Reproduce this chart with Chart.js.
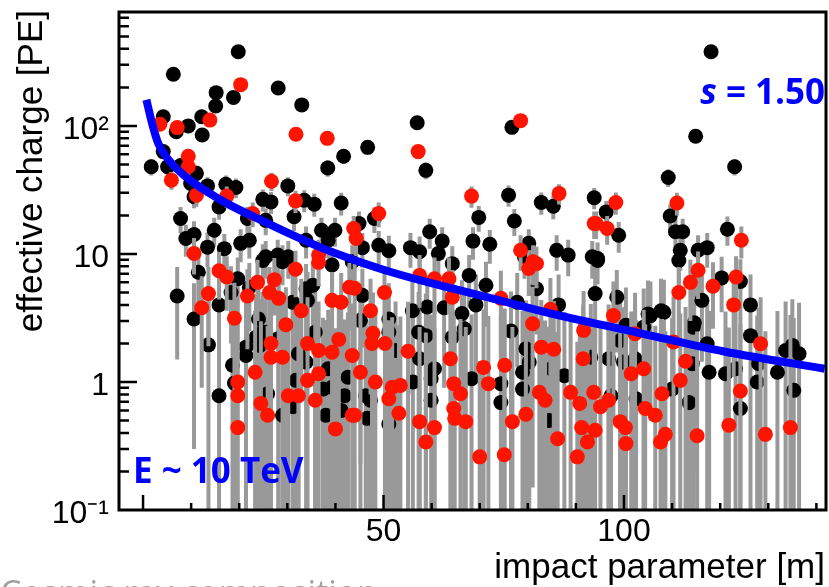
<!DOCTYPE html>
<html>
<head>
<meta charset="utf-8">
<script src="https://cdn.jsdelivr.net/npm/chart.js@4.4.0/dist/chart.umd.min.js"></script>
<style>
  html, body { margin: 0; padding: 0; background: #fff; }
  #wrap { width: 829px; height: 587px; position: relative; overflow: hidden; }
</style>
</head>
<body>
<div id="wrap"><canvas id="chart" width="829" height="587"></canvas></div>
<script>
// axis ranges and tick values
var xMin = -5, xMax = 142;
var yMin = 0.1, yMax = 776;
var xLabelValues = [0, 50, 100];
var yLabelValues = [0.1, 1, 10, 100];
var yLabelTexts = ['10\u207B\u00B9', '1', '10', '10\u00B2'];
var xMajorTicks = [0, 50, 100];
var xMinorTicks = [10, 20, 30, 40, 60, 70, 80, 90, 110, 120, 130, 140];
var yMajorTicks = [1, 10, 100];
var yMinorTicks = [0.2, 0.3, 0.4, 0.5, 0.6, 0.7, 0.8, 0.9, 2, 3, 4, 5, 6, 7, 8, 9,
  20, 30, 40, 50, 60, 70, 80, 90, 200, 300, 400, 500, 600, 700];

// [impact parameter, effective charge, error]
var blackPoints = [
  [19.8, 380, 19], [6.3, 253, 16], [28.1, 198, 14], [15.2, 182, 13], [18.8, 167, 13],
  [33, 146, 12], [15.1, 143, 12], [4.2, 118, 11], [12.2, 118, 11], [9.4, 100, 10],
  [6.9, 90, 9.5], [12.3, 85, 9], [41.7, 58, 7.6], [38.4, 47, 7], [4.2, 63, 8],
  [1.7, 48, 7], [5.1, 48, 7], [7.8, 49, 7], [11.1, 42.6, 6.5], [30.1, 34, 5.8],
  [9.9, 35.5, 6], [13.4, 34, 5.8], [17.2, 35, 6], [19.3, 33, 5.8], [10.6, 28, 5.3],
  [15.8, 23.3, 4.8], [24.9, 26.7, 5.2], [26.6, 25.5, 5], [33.5, 26.3, 5.1], [35.6, 24.5, 5],
  [41.2, 25, 5], [21.7, 18.9, 4.4], [25.5, 18.3, 4.3], [31.4, 19.5, 4.4], [7.8, 18.9, 4.4],
  [8.9, 13.2, 3.7], [10.6, 14.2, 3.8], [14.8, 15.3, 3.9], [13.4, 11.3, 3.4], [16.9, 11, 3.3],
  [20.3, 12.1, 3.5], [22.1, 12.8, 3.6], [33.9, 12.8, 3.6], [37.1, 15.3, 3.9], [39.9, 15.3, 3.9],
  [38.5, 12.8, 3.6], [25.5, 9.5, 3.1], [28, 9.8, 3.1], [30.2, 9.5, 3.1],
  [57, 106, 10], [46.7, 68, 8], [58.8, 45, 6.7], [76.7, 97.5, 10], [76, 28.8, 5.4],
  [82.8, 25.2, 5], [85.3, 23.6, 4.9], [93.8, 27.5, 5.2], [48.1, 18.9, 4.3], [44.9, 17.3, 4.2],
  [69.8, 19.3, 4.4], [77.2, 18.1, 4.3], [59.6, 14.9, 3.9], [62.2, 12.6, 3.6], [68.6, 12.6, 3.6],
  [72.1, 11.9, 3.5], [55.6, 11.2, 3.4], [57.5, 10.4, 3.3], [61.4, 10.1, 3.2], [49, 11.7, 3.4],
  [51.1, 10.6, 3.3], [45.6, 11.2, 3.4], [80.2, 12.1, 3.5], [86, 10.7, 3.3], [88.4, 9.8, 3.1],
  [93.4, 9.5, 3.1],
  [118.1, 380, 19], [114.9, 83, 9], [123, 48, 7], [109.2, 39.6, 6.3], [96.3, 21.3, 4.6],
  [109.6, 19.8, 4.5], [98.9, 14, 3.8], [110.7, 14.9, 3.9], [112.2, 14.9, 3.9], [121.5, 15.6, 4],
  [111.7, 10.7, 3.3], [115.4, 10.7, 3.3], [117.3, 11.2, 3.4], [94.5, 9.2, 3.1],
  [7.1, 4.7, 3.2], [11.5, 7.2, 3], [10.6, 3.1, 2.8], [13.6, 1.95, 2.5], [15.8, 0.78, 2.2],
  [18.6, 1.35, 2.4], [19, 0.98, 2.6], [15.8, 4.0, 3], [18.3, 5.0, 3], [19.7, 6.4, 3],
  [22.1, 5.5, 3], [24, 3.1, 2.8], [24.9, 2.45, 2.6], [21.4, 1.87, 2.5], [29, 0.55, 2.2],
  [32.3, 1.66, 2.4], [38, 0.55, 2.5], [41.2, 0.6, 2.3], [35.8, 2.45, 2.7], [38.5, 1.27, 2.4],
  [39.3, 0.91, 2.3], [42.6, 1.09, 2.4], [25.9, 0.81, 2.3], [31.8, 1.03, 2.4], [25.5, 2.45, 2.6],
  [31.1, 4.2, 2.9], [34.2, 4.34, 2.9], [43.5, 8.7, 3], [39.3, 8.2, 3], [35.3, 5.7, 3],
  [29, 8.7, 3], [24.9, 8.9, 3], [23.5, 2.24, 2.6], [33.9, 5.35, 3], [21.4, 1.61, 2.5],
  [24.3, 1.93, 2.5], [28.1, 2.18, 2.6], [33.9, 1.43, 2.4], [31.1, 0.64, 2.3], [37.4, 0.88, 2.3],
  [41.9, 0.78, 2.3],
  [46.3, 0.78, 2.3], [67.8, 6.8, 3], [71.3, 5.7, 3], [56, 3.6, 2.8], [59.1, 3.85, 2.9],
  [62.6, 3.8, 2.9], [66.3, 3.42, 2.8], [69.2, 4.0, 2.9], [66.8, 2.6, 2.7], [57.3, 2.45, 2.6],
  [58.8, 2.3, 2.6], [64.3, 2.24, 2.6], [76.5, 2.5, 2.6], [79.6, 1.82, 2.5], [81.8, 5.35, 3],
  [86.4, 4.0, 2.9], [57.5, 1.52, 2.4], [60.6, 1.27, 2.4], [59.9, 1.06, 2.3], [68.3, 1.06, 2.3],
  [56.1, 1.0, 2.3], [74.4, 0.97, 2.3], [78.9, 1.19, 2.4], [80.3, 1.43, 2.4], [84.9, 1.27, 2.4],
  [87.6, 1.12, 2.4], [78.9, 0.88, 2.3], [74.4, 0.69, 2.3], [47.3, 0.72, 2.3], [46.6, 0.52, 2.2],
  [51.1, 0.47, 2.2], [59.9, 0.72, 2.3], [84.4, 0.5, 2.2], [45.2, 3.03, 2.8], [51.1, 2.45, 2.6],
  [52.5, 1.76, 2.5], [64.3, 8.4, 3.1], [79.3, 9.5, 3.1], [45.6, 4.75, 2.9], [51.1, 3.1, 2.8],
  [77.8, 4.2, 2.9],
  [94.5, 8.9, 3.1], [111.4, 8.9, 3.1], [120.3, 6.5, 3], [124.2, 6.1, 3], [126.3, 4.0, 2.9],
  [116.2, 4.34, 2.9], [98.5, 4.6, 2.9], [94, 4.9, 2.9], [105.5, 3.3, 2.8], [108.3, 3.5, 2.8],
  [100.4, 2.77, 2.7], [104.1, 2.68, 2.7], [99.2, 2.11, 2.6], [114.4, 2.68, 2.7], [117.3, 1.99, 2.6],
  [126.3, 2.3, 2.6], [133.6, 1.76, 2.5], [135, 1.93, 2.5], [136.4, 1.66, 2.5], [93.1, 1.56, 2.5],
  [96.8, 1.52, 2.5], [99.9, 1.43, 2.4], [102.3, 1.52, 2.5], [114.2, 1.39, 2.4], [117.7, 1.19, 2.4],
  [121.1, 1.16, 2.4], [123.2, 1.27, 2.4], [128, 1.39, 2.4], [131.9, 1.19, 2.4], [127.7, 1.0, 2.3],
  [135.3, 0.86, 2.3], [124.2, 0.62, 2.2], [110, 0.88, 2.3], [113.5, 0.69, 2.3], [102.5, 0.74, 2.3],
  [97.3, 0.78, 2.3], [105, 3.4, 2.8], [107.7, 3.6, 2.8], [114.6, 2.9, 2.7]
];

var redPoints = [
  [20.3, 210, 14], [13.9, 111, 10], [3.5, 103, 10], [7.1, 97, 10], [31.8, 86, 9],
  [38.3, 80, 9], [9.4, 58, 7.6], [9.4, 48, 7], [5.9, 37.7, 6], [26.7, 37, 6],
  [11.1, 28.8, 5.4], [17.4, 28.3, 5.3], [31.7, 26, 5.1], [22.8, 20.7, 4.5], [10.6, 10.1, 3.2],
  [43.8, 15.8, 4], [44.3, 13.2, 3.6], [36.5, 9.8, 3.1],
  [57.2, 63, 8], [78.5, 110, 10], [68.3, 28.3, 5.3], [86.5, 29.7, 5.4], [93.8, 17.3, 4.2],
  [49, 20.7, 4.5], [78.5, 10.7, 3.3], [81.1, 8.7, 3],
  [98.3, 25.2, 5], [111, 25, 5], [94.2, 17.3, 4.2], [96.5, 15.8, 4], [124.4, 12.8, 3.6],
  [15.8, 7.4, 3], [17.4, 6.6, 3], [13.6, 4.9, 3], [12.2, 3.8, 2.9], [19, 3.15, 2.8],
  [19.7, 1.0, 2.4], [19.7, 0.78, 2.3], [19.7, 0.44, 2.2], [21.7, 4.7, 2.9], [23.8, 6.0, 3],
  [27.3, 6.3, 3], [26.3, 5.0, 2.9], [28.2, 4.5, 2.9], [31.7, 7.6, 3], [36.5, 8.6, 3],
  [32.9, 3.6, 2.8], [29.7, 2.8, 2.7], [26.6, 2.0, 2.6], [26.6, 1.56, 2.5], [29, 1.56, 2.5],
  [23.3, 1.19, 2.4], [24.5, 0.68, 2.3], [25.9, 0.55, 2.2], [30.2, 0.78, 2.3], [32.3, 0.78, 2.3],
  [34.2, 2.0, 2.6], [36.5, 1.76, 2.5], [39.3, 1.71, 2.5], [40.7, 2.15, 2.6], [43.5, 1.61, 2.5],
  [34.2, 1.03, 2.4], [36.5, 1.16, 2.4], [35.8, 0.72, 2.3], [40, 0.43, 2.2], [43.5, 0.55, 2.2],
  [39.3, 4.34, 2.9], [41.2, 4.2, 2.9], [42.9, 5.5, 3],
  [50.2, 5.0, 2.9], [47.3, 3.6, 2.8], [47.8, 2.4, 2.6], [47.6, 2.0, 2.6], [50.3, 2.0, 2.6],
  [45.2, 1.19, 2.4], [48.3, 1.0, 2.4], [51.1, 0.74, 2.3], [51.8, 0.91, 2.3], [53.5, 0.94, 2.3],
  [53.2, 0.57, 2.2], [55.1, 1.74, 2.5], [57.5, 0.49, 2.2], [60.6, 0.44, 2.2], [58.8, 0.34, 2.1],
  [63.9, 1.52, 2.5], [64.6, 0.97, 2.3], [66, 0.81, 2.3], [64.6, 0.62, 2.2], [64.8, 0.52, 2.2],
  [67.1, 0.49, 2.2], [70.8, 1.3, 2.4], [71.8, 0.97, 2.3], [75.2, 1.35, 2.4], [70, 0.26, 1.2],
  [75.1, 0.27, 1.4], [76.8, 0.49, 2.2], [79.6, 0.56, 2.2], [81, 2.85, 2.7], [82.8, 1.87, 2.5],
  [85.4, 1.8, 2.5], [82.4, 0.83, 2.3], [83.6, 0.72, 2.3], [86.2, 0.36, 2.1], [88.9, 0.83, 2.3],
  [90.8, 0.68, 2.3], [91.5, 1.52, 2.5], [91.2, 0.44, 2.2], [92.4, 0.34, 2.1], [90.3, 0.26, 1.8],
  [91.6, 2.53, 2.6], [84.7, 3.7, 2.8], [80.2, 7.7, 3], [81.8, 8.4, 3], [74.4, 4.5, 2.9],
  [64.3, 4.6, 2.9], [60.6, 6.4, 3], [63.6, 6.4, 3], [57.5, 6.8, 3], [44, 5.4, 3],
  [44, 0.55, 2.2],
  [115.4, 7.45, 3], [113.8, 6.0, 3], [111.4, 5.0, 2.9], [118.5, 5.6, 3], [123.3, 6.6, 3],
  [122.8, 4.0, 2.9], [97.8, 3.3, 2.8], [102.3, 2.38, 2.6], [110.3, 2.05, 2.6], [128.4, 1.99, 2.6],
  [101.5, 1.16, 2.4], [104.1, 1.27, 2.4], [112.8, 1.45, 2.4], [111.7, 1.03, 2.4], [124.2, 0.85, 2.3],
  [107.9, 0.81, 2.3], [96.8, 0.72, 2.3], [95.1, 0.64, 2.2], [93.7, 0.83, 2.3], [104.4, 0.62, 2.2],
  [106.5, 0.55, 2.2], [99.2, 0.49, 2.2], [100.3, 0.44, 2.2], [100.4, 0.33, 2.1], [94, 0.42, 2.2],
  [108.6, 0.39, 2.1], [107.6, 0.34, 2.1], [115.2, 0.38, 2.1], [121.8, 0.46, 2.2], [129.4, 0.39, 2.1],
  [134.6, 0.44, 2.9]
];

// fitted lateral distribution
var fitX = [0.7, 1.7, 3.1, 5.2, 8.9, 12.8, 17.7, 24.2, 30.8, 37.5, 44.2, 51.7, 60.8, 72.5, 85.6, 103.5, 120.8, 141.7];
var fitY = [160, 111, 74, 55, 40, 31.5, 24.5, 18.6, 14.2, 11, 8.9, 7.2, 5.8, 4.5, 3.37, 2.4, 1.73, 1.27];

function toXY(list) {
  return list.map(function (p) { return { x: p[0], y: p[1], err: p[2] }; });
}

function noPadding(s) {
  s.paddingTop = 0; s.paddingBottom = 0; s.paddingLeft = 0; s.paddingRight = 0;
}

var errorBars = {
  id: 'errorBars',
  beforeDatasetDraw: function (chart, args) {
    var ds = chart.data.datasets[args.index];
    if (!ds.errColor) return;
    var ctx = chart.ctx, a = chart.chartArea;
    var xs = chart.scales.x, ys = chart.scales.y;
    ctx.save();
    ctx.beginPath();
    ctx.rect(a.left, a.top, a.right - a.left, a.bottom - a.top);
    ctx.clip();
    ctx.strokeStyle = ds.errColor;
    ctx.lineWidth = 4;
    ctx.beginPath();
    ds.data.forEach(function (p) {
      var px = xs.getPixelForValue(p.x);
      var lo = Math.max(p.y - p.err, yMin);
      ctx.moveTo(px, ys.getPixelForValue(lo));
      ctx.lineTo(px, ys.getPixelForValue(p.y + p.err));
    });
    ctx.stroke();
    ctx.restore();
  }
};

var frame = {
  id: 'frame',
  afterDraw: function (chart) {
    var ctx = chart.ctx, a = chart.chartArea;
    var xs = chart.scales.x, ys = chart.scales.y;
    ctx.save();
    ctx.strokeStyle = '#000';
    ctx.lineWidth = 2.5;
    ctx.beginPath();
    yMajorTicks.forEach(function (v) {
      var py = ys.getPixelForValue(v);
      ctx.moveTo(a.left, py); ctx.lineTo(a.left + 18, py);
    });
    yMinorTicks.forEach(function (v) {
      var py = ys.getPixelForValue(v);
      ctx.moveTo(a.left, py); ctx.lineTo(a.left + 10, py);
    });
    xMajorTicks.forEach(function (v) {
      var px = xs.getPixelForValue(v);
      ctx.moveTo(px, a.bottom); ctx.lineTo(px, a.bottom - 15);
    });
    xMinorTicks.forEach(function (v) {
      var px = xs.getPixelForValue(v);
      ctx.moveTo(px, a.bottom); ctx.lineTo(px, a.bottom - 7);
    });
    ctx.stroke();
    ctx.lineWidth = 3;
    ctx.strokeRect(a.left, a.top, a.right - a.left, a.bottom - a.top);

    // axis titles
    ctx.fillStyle = '#000';
    ctx.font = '35px "Liberation Sans", Arial, sans-serif';
    ctx.textBaseline = 'alphabetic';
    ctx.textAlign = 'right';
    ctx.fillText('impact parameter [m]', 825, 578);
    ctx.save();
    ctx.translate(42, 10);
    ctx.rotate(-Math.PI / 2);
    ctx.fillText('effective charge [PE]', 0, 0);
    ctx.restore();

    // annotations
    ctx.fillStyle = '#0000ff';
    ctx.textAlign = 'left';
    ctx.font = 'bold 35px "Open Sans", "Noto Sans", sans-serif';
    ctx.fillText('E ~ 10 TeV', 133, 483);
    var rest = ' = 1.50';
    var wRest = ctx.measureText(rest).width;
    ctx.font = 'italic bold 35px "Open Sans", "Noto Sans", sans-serif';
    var wS = ctx.measureText('s').width;
    ctx.fillText('s', 825 - wRest - wS, 104);
    ctx.font = 'bold 35px "Open Sans", "Noto Sans", sans-serif';
    ctx.fillText(rest, 825 - wRest, 104);

    // cut-off caption below the figure
    ctx.fillStyle = '#a0a0a0';
    ctx.font = '34px "Open Sans", "Noto Sans", sans-serif';
    ctx.fillText('Cosmic ray composition', 0, 605);
    ctx.restore();
  }
};

var ctx = document.getElementById('chart').getContext('2d');
var chart = new Chart(ctx, {
  type: 'scatter',
  data: {
    datasets: [
      {
        type: 'line',
        data: fitX.map(function (v, i) { return { x: v, y: fitY[i] }; }),
        borderColor: '#0000ff',
        borderWidth: 8,
        pointRadius: 0,
        fill: false,
        cubicInterpolationMode: 'monotone'
      },
      {
        data: toXY(redPoints),
        errColor: '#999999',
        pointRadius: 7.5,
        pointBackgroundColor: '#ff1400',
        pointBorderWidth: 0,
        borderWidth: 0
      },
      {
        data: toXY(blackPoints),
        errColor: '#999999',
        pointRadius: 7.5,
        pointBackgroundColor: '#000000',
        pointBorderWidth: 0,
        borderWidth: 0
      }
    ]
  },
  options: {
    responsive: false,
    animation: false,
    devicePixelRatio: 1,
    events: [],
    layout: { autoPadding: false, padding: { top: 12, right: 3, left: 0, bottom: 0 } },
    plugins: { legend: { display: false }, tooltip: { enabled: false } },
    scales: {
      x: {
        type: 'linear',
        min: xMin,
        max: xMax,
        grid: { display: false, drawTicks: false },
        border: { display: false },
        afterFit: function (s) { s.height = 77; noPadding(s); },
        ticks: {
          stepSize: 10,
          autoSkip: false,
          maxRotation: 0,
          padding: 3,
          color: '#000',
          font: { family: '"Liberation Sans", Arial, sans-serif', size: 32 },
          callback: function (v) { return xLabelValues.indexOf(v) >= 0 ? String(v) : ''; }
        }
      },
      y: {
        type: 'logarithmic',
        min: yMin,
        max: yMax,
        grid: { display: false, drawTicks: false },
        border: { display: false },
        afterFit: function (s) { s.width = 119; noPadding(s); },
        ticks: {
          autoSkip: false,
          padding: 10,
          labelOffset: 4,
          color: '#000',
          font: { family: '"Liberation Sans", Arial, sans-serif', size: 32 },
          callback: function (v) {
            var i = yLabelValues.indexOf(Number(v));
            return i >= 0 ? yLabelTexts[i] : '';
          }
        }
      }
    }
  },
  plugins: [errorBars, frame]
});
</script>
</body>
</html>
